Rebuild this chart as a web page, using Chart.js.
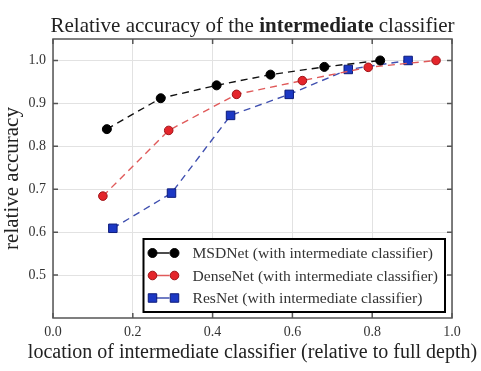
<!DOCTYPE html>
<html>
<head>
<meta charset="utf-8">
<script src="https://cdn.jsdelivr.net/npm/chart.js@4/dist/chart.umd.min.js"></script>
<style>
  html, body { margin: 0; padding: 0; background: #fff; }
  #wrap { width: 481px; height: 371px; }
</style>
</head>
<body>
<div id="wrap"><canvas id="chart"></canvas></div>
<script>
// data
const msdX = [0.135, 0.27, 0.41, 0.545, 0.68, 0.82];
const msdY = [0.840, 0.912, 0.942, 0.967, 0.985, 1.0];
const denseX = [0.125, 0.29, 0.46, 0.625, 0.79, 0.96];
const denseY = [0.684, 0.837, 0.921, 0.953, 0.984, 1.0];
const resX = [0.15, 0.297, 0.445, 0.592, 0.74, 0.89];
const resY = [0.609, 0.691, 0.872, 0.921, 0.979, 1.0];

const xTicks = [0.0, 0.2, 0.4, 0.6, 0.8, 1.0];
const yTicks = [0.5, 0.6, 0.7, 0.8, 0.9, 1.0];

const seriesNames = [
    'MSDNet (with intermediate classifier)',
    'DenseNet (with intermediate classifier)',
    'ResNet (with intermediate classifier)'
];
const xLabel = 'location of intermediate classifier (relative to full depth)';

const FONT = "'Liberation Serif', 'DejaVu Serif', serif";

function toPoints(xs, ys) {
    return xs.map((x, i) => ({ x: x, y: ys[i] }));
}

// title with the bold word in the middle, plus the x axis label
// (chart.js squeezes axis titles to the plot width, the original is wider)
const titlePlugin = {
    id: 'mixedTitle',
    afterDraw(chart) {
        const ctx = chart.ctx;
        const parts = [
            ['Relative accuracy of the ', 'normal'],
            ['intermediate', 'bold'],
            [' classifier', 'normal']
        ];
        const area = chart.chartArea;
        const cx = (area.left + area.right) / 2;
        ctx.save();
        ctx.fillStyle = '#222';
        ctx.textBaseline = 'alphabetic';
        let total = 0;
        parts.forEach(p => {
            ctx.font = p[1] + ' 21px ' + FONT;
            total += ctx.measureText(p[0]).width;
        });
        let x = cx - total / 2;
        parts.forEach(p => {
            ctx.font = p[1] + ' 21px ' + FONT;
            ctx.fillText(p[0], x, 32);
            x += ctx.measureText(p[0]).width;
        });

        ctx.font = '20px ' + FONT;
        ctx.textAlign = 'center';
        ctx.textBaseline = 'middle';
        ctx.fillText(xLabel, cx, area.bottom + 35);
        ctx.restore();
    }
};

// box around the plot with ticks pointing inwards
const framePlugin = {
    id: 'frame',
    afterDatasetsDraw(chart) {
        const ctx = chart.ctx;
        const a = chart.chartArea;
        const xs = chart.scales.x, ys = chart.scales.y;
        ctx.save();
        ctx.strokeStyle = '#555';
        ctx.lineWidth = 1.5;
        ctx.setLineDash([]);
        ctx.strokeRect(a.left, a.top, a.right - a.left, a.bottom - a.top);
        ctx.beginPath();
        xTicks.forEach(v => {
            const px = xs.getPixelForValue(v);
            ctx.moveTo(px, a.bottom); ctx.lineTo(px, a.bottom - 5);
            ctx.moveTo(px, a.top); ctx.lineTo(px, a.top + 5);
        });
        yTicks.forEach(v => {
            const py = ys.getPixelForValue(v);
            ctx.moveTo(a.left, py); ctx.lineTo(a.left + 5, py);
            ctx.moveTo(a.right, py); ctx.lineTo(a.right - 5, py);
        });
        ctx.stroke();
        ctx.restore();
    }
};

// legend box in the lower right corner
const legendPlugin = {
    id: 'boxLegend',
    afterDraw(chart) {
        const ctx = chart.ctx;
        const a = chart.chartArea;
        const legendFont = '15.6px ' + FONT;
        ctx.save();
        ctx.font = legendFont;
        let maxW = 0;
        chart.data.datasets.forEach(ds => {
            maxW = Math.max(maxW, ctx.measureText(ds.label).width);
        });
        const w = maxW + 56;
        const h = 73;
        const right = a.right - 7;
        const bottom = a.bottom - 6;
        const left = right - w;
        const top = bottom - h;
        ctx.fillStyle = '#fff';
        ctx.fillRect(left, top, w, h);
        ctx.strokeStyle = '#000';
        ctx.lineWidth = 2;
        ctx.strokeRect(left, top, w, h);

        chart.data.datasets.forEach((ds, i) => {
            const y = top + 14 + i * 22.5;
            const x1 = left + 9, x2 = left + 31;
            ctx.strokeStyle = ds.borderColor;
            ctx.lineWidth = 1.5;
            ctx.beginPath();
            ctx.moveTo(x1, y); ctx.lineTo(x2 - 5, y);
            ctx.stroke();
            [x1, x2].forEach(px => {
                ctx.fillStyle = ds.pointBackgroundColor;
                ctx.strokeStyle = ds.pointBorderColor;
                ctx.lineWidth = 1;
                Chart.helpers.drawPoint(ctx, {
                    pointStyle: ds.pointStyle,
                    radius: ds.pointRadius,
                    borderWidth: 1,
                    rotation: 0
                }, px, y);
            });
            ctx.fillStyle = '#333';
            ctx.textBaseline = 'middle';
            ctx.font = legendFont;
            ctx.fillText(ds.label, left + 49, y + 1);
        });
        ctx.restore();
    }
};

new Chart(document.getElementById('chart'), {
    type: 'scatter',
    data: {
        datasets: [
            {
                label: seriesNames[0],
                data: toPoints(msdX, msdY),
                showLine: true,
                borderColor: '#111',
                borderWidth: 1.4,
                borderDash: [7, 5],
                pointStyle: 'circle',
                pointRadius: 4.5,
                pointBackgroundColor: '#000',
                pointBorderColor: '#000',
                pointBorderWidth: 1
            },
            {
                label: seriesNames[1],
                data: toPoints(denseX, denseY),
                showLine: true,
                borderColor: '#e05a5a',
                borderWidth: 1.4,
                borderDash: [7, 5],
                pointStyle: 'circle',
                pointRadius: 4.3,
                pointBackgroundColor: '#e4252b',
                pointBorderColor: '#9e1418',
                pointBorderWidth: 1
            },
            {
                label: seriesNames[2],
                data: toPoints(resX, resY),
                showLine: true,
                borderColor: '#4050b0',
                borderWidth: 1.4,
                borderDash: [7, 5],
                pointStyle: 'rect',
                pointRadius: 6,
                pointBackgroundColor: '#1c38c4',
                pointBorderColor: '#0c1b7a',
                pointBorderWidth: 1
            }
        ]
    },
    plugins: [titlePlugin, framePlugin, legendPlugin],
    options: {
        responsive: true,
        maintainAspectRatio: false,
        animation: false,
        layout: { padding: { top: 39, right: 29, left: 0, bottom: 0 } },
        plugins: {
            legend: { display: false },
            title: { display: false },
            tooltip: { enabled: false }
        },
        scales: {
            x: {
                type: 'linear',
                min: 0,
                max: 1,
                afterBuildTicks: (scale) => { scale.ticks = xTicks.map(v => ({ value: v })); },
                afterFit: (scale) => { scale.height = 53; },
                border: { display: false },
                grid: { color: '#e2e2e2', lineWidth: 1, drawTicks: false },
                ticks: {
                    padding: 6,
                    color: '#333',
                    font: { family: FONT, size: 14 },
                    callback: (v) => Number(v).toFixed(1)
                },
                title: { display: false }
            },
            y: {
                type: 'linear',
                min: 0.4,
                max: 1.05,
                afterBuildTicks: (scale) => { scale.ticks = yTicks.map(v => ({ value: v })); },
                afterFit: (scale) => { scale.width = 53; },
                border: { display: false },
                grid: { color: '#e2e2e2', lineWidth: 1, drawTicks: false },
                ticks: {
                    padding: 7,
                    color: '#333',
                    font: { family: FONT, size: 14 },
                    callback: (v) => Number(v).toFixed(1)
                },
                title: {
                    display: true,
                    text: 'relative accuracy',
                    color: '#222',
                    font: { family: FONT, size: 21 },
                    padding: { top: 0, bottom: 0 }
                }
            }
        }
    }
});
</script>
</body>
</html>
